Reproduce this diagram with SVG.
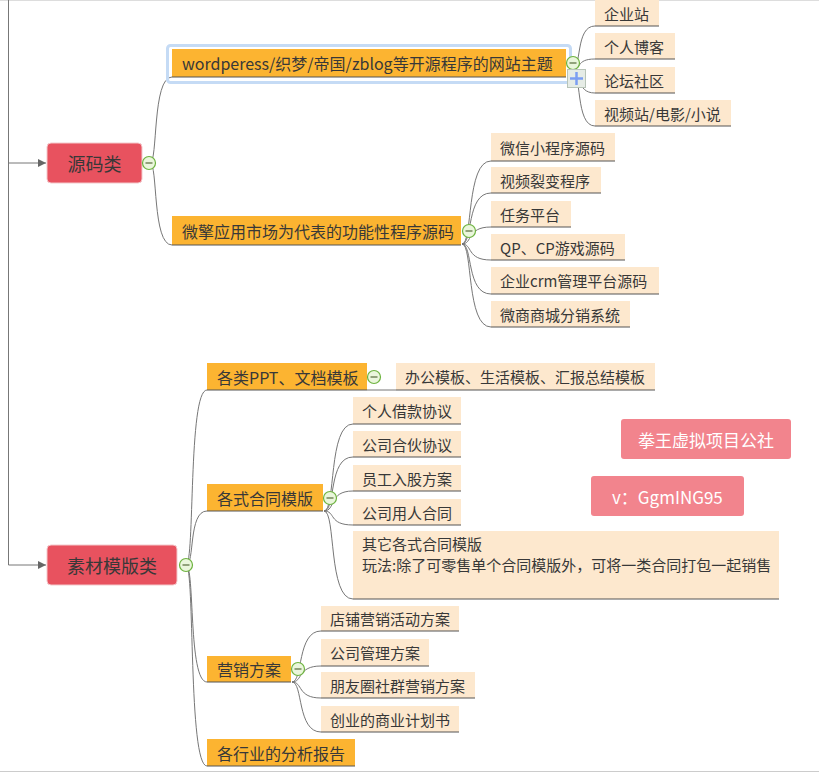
<svg xmlns="http://www.w3.org/2000/svg" width="819" height="773" viewBox="0 0 819 773">
<style>
text{font-family:"Microsoft YaHei","Noto Sans CJK SC","Noto Sans",sans-serif;fill:#383838;dominant-baseline:central}
.root{fill:#E8525F;stroke:#f3c9cc;stroke-width:1}
.rt{font-size:18px}
.main{fill:#FCB431}
.mt{font-size:16px}
.leaf{fill:#FDE8CE}
.lt{font-size:15px}
.ul{stroke:#555;stroke-width:1;fill:none}
.con{stroke:#777;stroke-width:1;fill:none}
.wm{fill:#F2848D}
.wt{font-size:17px;fill:#fff}
.col circle{fill:#EAF6DC;stroke:#6DB33F;stroke-width:1.2}
.col line{stroke:#556B3A;stroke-width:1.2}
</style>
<defs>
<marker id="arr" markerWidth="8" markerHeight="8" refX="8" refY="4" orient="auto" markerUnits="userSpaceOnUse">
<path d="M0,0 L8,4 L0,8 z" fill="#666"/>
</marker>
<g id="minus" class="col"><circle cx="0" cy="0" r="6.5"/><line x1="-3.5" y1="0" x2="3.5" y2="0"/></g>
</defs>
<line x1="0" y1="0.5" x2="819" y2="0.5" stroke="#ddd"/>
<line x1="0" y1="771.5" x2="819" y2="771.5" stroke="#ccc"/>
<g id="connectors">
<path class="con" d="M8.5,0 V565 H46" marker-end="url(#arr)"/>
<path class="con" d="M8.5,163 H46" marker-end="url(#arr)"/>
<path class="con" d="M150,163 C158,163 152,77 172,77"/>
<path class="con" d="M150,163 C158,163 152,245 172,245"/>
<path class="con" d="M572,70 C582,70 575,26 595,26"/>
<path class="con" d="M572,70 C582,70 575,59 595,59"/>
<path class="con" d="M572,70 C582,70 575,93 595,93"/>
<path class="con" d="M572,70 C582,70 575,126 595,126"/>
<path class="con" d="M462,244 C473,244 466,161 491,161"/>
<path class="con" d="M462,244 C473,244 466,193 491,193"/>
<path class="con" d="M462,244 C473,244 466,227 491,227"/>
<path class="con" d="M462,244 C473,244 466,260 491,260"/>
<path class="con" d="M462,244 C473,244 466,294 491,294"/>
<path class="con" d="M462,244 C473,244 466,327 491,327"/>
<path class="con" d="M186,565 C195,565 188,390 207,390"/>
<path class="con" d="M186,565 C195,565 188,511 207,511"/>
<path class="con" d="M186,565 C195,565 188,682 207,682"/>
<path class="con" d="M186,565 C195,565 188,766 207,766"/>
<path class="con" d="M367,390 H396"/>
<path class="con" d="M324,511 C336,511 328,424 353,424"/>
<path class="con" d="M324,511 C336,511 328,457 353,457"/>
<path class="con" d="M324,511 C336,511 328,491 353,491"/>
<path class="con" d="M324,511 C336,511 328,525 353,525"/>
<path class="con" d="M324,511 C336,511 328,599 353,599"/>
<path class="con" d="M292,682 C303,682 297,631 321,631"/>
<path class="con" d="M292,682 C303,682 297,666 321,666"/>
<path class="con" d="M292,682 C303,682 297,698 321,698"/>
<path class="con" d="M292,682 C303,682 297,732 321,732"/>
</g>
<g id="root-yuanma"><rect class="root" x="47" y="143" width="95" height="40" rx="4"/><text class="rt" x="94.5" y="163" text-anchor="middle">源码类</text><use href="#minus" x="149" y="163"/></g>
<g id="n-wordpress"><rect x="167.5" y="45.5" width="403" height="37" rx="3" fill="none" stroke="#C5DBF5" stroke-width="3"/><rect class="main" x="172" y="49" width="394" height="28"/><line class="ul" x1="172" y1="77" x2="566" y2="77"/><text class="mt" x="182" y="63">wordperess/织梦/帝国/zblog等开源程序的网站主题</text><use href="#minus" x="573" y="63"/><rect x="567.5" y="69.5" width="18" height="18" fill="#E6ECE6" stroke="#B8C4B8"/><path d="M570,78.5 H583 M576.5,72 V85" stroke="#7C9EF2" stroke-width="2.5"/></g>
<g id="l-qiye"><rect class="leaf" x="595" y="0" width="64" height="26"/><line class="ul" x1="595" y1="26" x2="659" y2="26"/><text class="lt" x="604" y="13">企业站</text></g>
<g id="l-boke"><rect class="leaf" x="595" y="33" width="80" height="26"/><line class="ul" x1="595" y1="59" x2="675" y2="59"/><text class="lt" x="604" y="46">个人博客</text></g>
<g id="l-luntan"><rect class="leaf" x="595" y="67" width="80" height="26"/><line class="ul" x1="595" y1="93" x2="675" y2="93"/><text class="lt" x="604" y="80">论坛社区</text></g>
<g id="l-shipin"><rect class="leaf" x="595" y="100" width="136" height="26"/><line class="ul" x1="595" y1="126" x2="731" y2="126"/><text class="lt" x="604" y="113">视频站/电影/小说</text></g>
<g id="n-weiqing"><rect class="main" x="172" y="216" width="289" height="29"/><line class="ul" x1="172" y1="245" x2="461" y2="245"/><text class="mt" x="182" y="230.5">微擎应用市场为代表的功能性程序源码</text><use href="#minus" x="469" y="231"/></g>
<g id="l-xcx"><rect class="leaf" x="491" y="133" width="124" height="28"/><line class="ul" x1="491" y1="161" x2="615" y2="161"/><text class="lt" x="500" y="147">微信小程序源码</text></g>
<g id="l-liebian"><rect class="leaf" x="491" y="167" width="110" height="26"/><line class="ul" x1="491" y1="193" x2="601" y2="193"/><text class="lt" x="500" y="180">视频裂变程序</text></g>
<g id="l-renwu"><rect class="leaf" x="491" y="201" width="80" height="26"/><line class="ul" x1="491" y1="227" x2="571" y2="227"/><text class="lt" x="500" y="214">任务平台</text></g>
<g id="l-qp"><rect class="leaf" x="491" y="234" width="134" height="26"/><line class="ul" x1="491" y1="260" x2="625" y2="260"/><text class="lt" x="500" y="247">QP、CP游戏源码</text></g>
<g id="l-crm"><rect class="leaf" x="491" y="267" width="168" height="27"/><line class="ul" x1="491" y1="294" x2="659" y2="294"/><text class="lt" x="500" y="280.5">企业crm管理平台源码</text></g>
<g id="l-weishang"><rect class="leaf" x="491" y="301" width="139" height="26"/><line class="ul" x1="491" y1="327" x2="630" y2="327"/><text class="lt" x="500" y="314">微商商城分销系统</text></g>
<g id="root-sucai"><rect class="root" x="47" y="545" width="130" height="40" rx="4"/><text class="rt" x="112" y="565" text-anchor="middle">素材模版类</text><use href="#minus" x="186" y="565"/></g>
<g id="n-ppt"><rect class="main" x="207" y="363" width="160" height="27"/><line class="ul" x1="207" y1="390" x2="367" y2="390"/><text class="mt" x="217" y="376.5">各类PPT、文档模板</text><use href="#minus" x="374" y="377"/></g>
<g id="l-bangong"><rect class="leaf" x="396" y="363" width="259" height="27"/><line class="ul" x1="396" y1="390" x2="655" y2="390"/><text class="lt" x="405" y="376.5">办公模板、生活模板、汇报总结模板</text></g>
<g id="n-hetong"><rect class="main" x="207" y="484" width="116" height="27"/><line class="ul" x1="207" y1="511" x2="323" y2="511"/><text class="mt" x="217" y="497.5">各式合同模版</text><use href="#minus" x="330" y="498"/></g>
<g id="l-jiekuan"><rect class="leaf" x="353" y="397" width="108" height="27"/><line class="ul" x1="353" y1="424" x2="461" y2="424"/><text class="lt" x="362" y="410.5">个人借款协议</text></g>
<g id="l-hehuo"><rect class="leaf" x="353" y="431" width="108" height="26"/><line class="ul" x1="353" y1="457" x2="461" y2="457"/><text class="lt" x="362" y="444">公司合伙协议</text></g>
<g id="l-rugu"><rect class="leaf" x="353" y="465" width="108" height="26"/><line class="ul" x1="353" y1="491" x2="461" y2="491"/><text class="lt" x="362" y="478">员工入股方案</text></g>
<g id="l-yongren"><rect class="leaf" x="353" y="499" width="108" height="26"/><line class="ul" x1="353" y1="525" x2="461" y2="525"/><text class="lt" x="362" y="512">公司用人合同</text></g>
<g id="l-qita"><rect class="leaf" x="353" y="531" width="426" height="68"/><line class="ul" x1="353" y1="599" x2="779" y2="599"/><text class="lt" x="362" y="543.5">其它各式合同模版</text><text class="lt" x="362" y="564">玩法:除了可零售单个合同模版外，可将一类合同打包一起销售</text></g>
<g id="n-yingxiao"><rect class="main" x="207" y="656" width="84" height="26"/><line class="ul" x1="207" y1="682" x2="291" y2="682"/><text class="mt" x="217" y="669">营销方案</text><use href="#minus" x="298" y="669"/></g>
<g id="l-dianpu"><rect class="leaf" x="321" y="606" width="138" height="25"/><line class="ul" x1="321" y1="631" x2="459" y2="631"/><text class="lt" x="330" y="618.5">店铺营销活动方案</text></g>
<g id="l-guanli"><rect class="leaf" x="321" y="639" width="108" height="27"/><line class="ul" x1="321" y1="666" x2="429" y2="666"/><text class="lt" x="330" y="652.5">公司管理方案</text></g>
<g id="l-pengyou"><rect class="leaf" x="321" y="672" width="154" height="26"/><line class="ul" x1="321" y1="698" x2="475" y2="698"/><text class="lt" x="330" y="685">朋友圈社群营销方案</text></g>
<g id="l-chuangye"><rect class="leaf" x="321" y="706" width="138" height="26"/><line class="ul" x1="321" y1="732" x2="459" y2="732"/><text class="lt" x="330" y="719">创业的商业计划书</text></g>
<g id="n-fenxi"><rect class="main" x="207" y="739" width="148" height="27"/><line class="ul" x1="207" y1="766" x2="355" y2="766"/><text class="mt" x="217" y="752.5">各行业的分析报告</text></g>
<g id="wm-1"><rect class="wm" x="621" y="419" width="170" height="40" rx="3"/><text class="wt" x="706" y="439" text-anchor="middle">拳王虚拟项目公社</text></g>
<g id="wm-2"><rect class="wm" x="591" y="476" width="153" height="40" rx="3"/><text class="wt" x="612" y="496">v：GgmING95</text></g>
</svg>
